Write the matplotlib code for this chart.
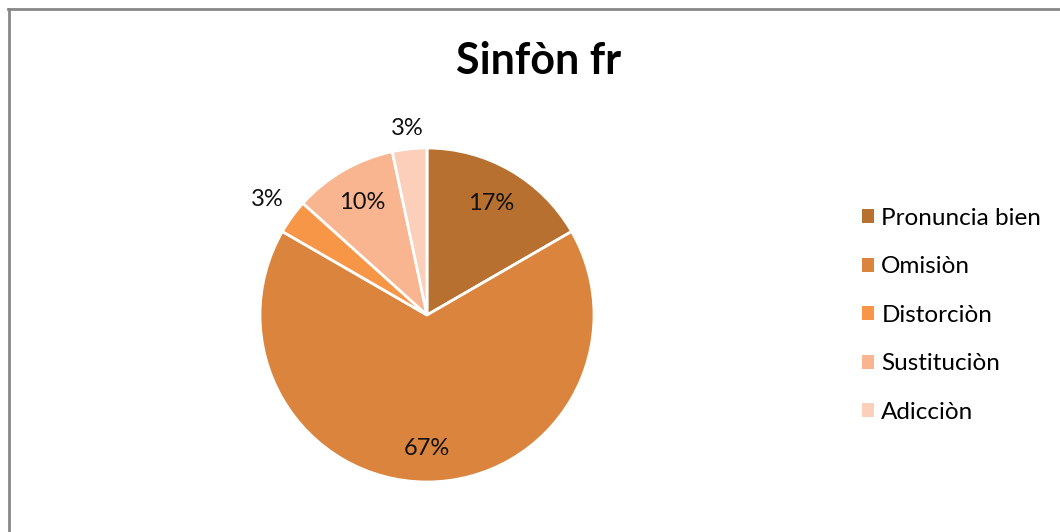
import numpy as np
import matplotlib
matplotlib.use('Agg')
import matplotlib.pyplot as plt
from matplotlib.lines import Line2D
from matplotlib.patches import Patch

plt.rcParams['font.family'] = ['Lato', 'DejaVu Sans']

# data
categories = ['Pronuncia bien', 'Omisiòn', 'Distorciòn', 'Sustituciòn', 'Adicciòn']
counts = [5, 20, 1, 3, 1]
colors = ['#B7702F', '#DB843D', '#F79646', '#F9B490', '#FBCFBA']
title = 'Sinfòn fr'

# distance of each percentage label from centre (in radii)
label_dist = [0.77, 0.80, 1.18, 0.78, 1.12]

W, H = 1060, 532
fig = plt.figure(figsize=(W / 100, H / 100), dpi=100)

cx, cy, r = 427, 315, 167
ax = fig.add_axes([(cx - r) / W, (H - cy - r) / H, 2 * r / W, 2 * r / H])

wedges, _ = ax.pie(counts, colors=colors, startangle=90, counterclock=False,
                   radius=1, wedgeprops=dict(edgecolor='white', linewidth=2))
ax.set_xlim(-1, 1)
ax.set_ylim(-1, 1)
ax.set_aspect('equal')
ax.axis('off')

total = sum(counts)
for w, c, d in zip(wedges, counts, label_dist):
    ang = np.deg2rad((w.theta1 + w.theta2) / 2)
    ax.text(d * np.cos(ang), d * np.sin(ang), f'{c / total:.0%}',
            ha='center', va='center', fontsize=17, color='#111111')

fig.text(539 / W, 1 - 61 / H, title, ha='center', va='center',
         fontsize=31, fontweight='bold', color='#000000')

handles = [Patch(facecolor=col, edgecolor='none') for col in colors]
fig.legend(handles, categories, loc='upper left',
           bbox_to_anchor=(840 / W, 1 - 186 / H), frameon=False,
           fontsize=17.5, handlelength=0.5, handleheight=0.5,
           handletextpad=0.3, labelspacing=1.13)

# chart frame (left and top edges visible)
fig.add_artist(Line2D([9 / W, 9 / W], [0, 1 - 9 / H], color='#888888', lw=2,
                      transform=fig.transFigure))
fig.add_artist(Line2D([8 / W, 1], [1 - 9 / H, 1 - 9 / H], color='#888888', lw=2,
                      transform=fig.transFigure))

fig.savefig('out.png', dpi=100)
